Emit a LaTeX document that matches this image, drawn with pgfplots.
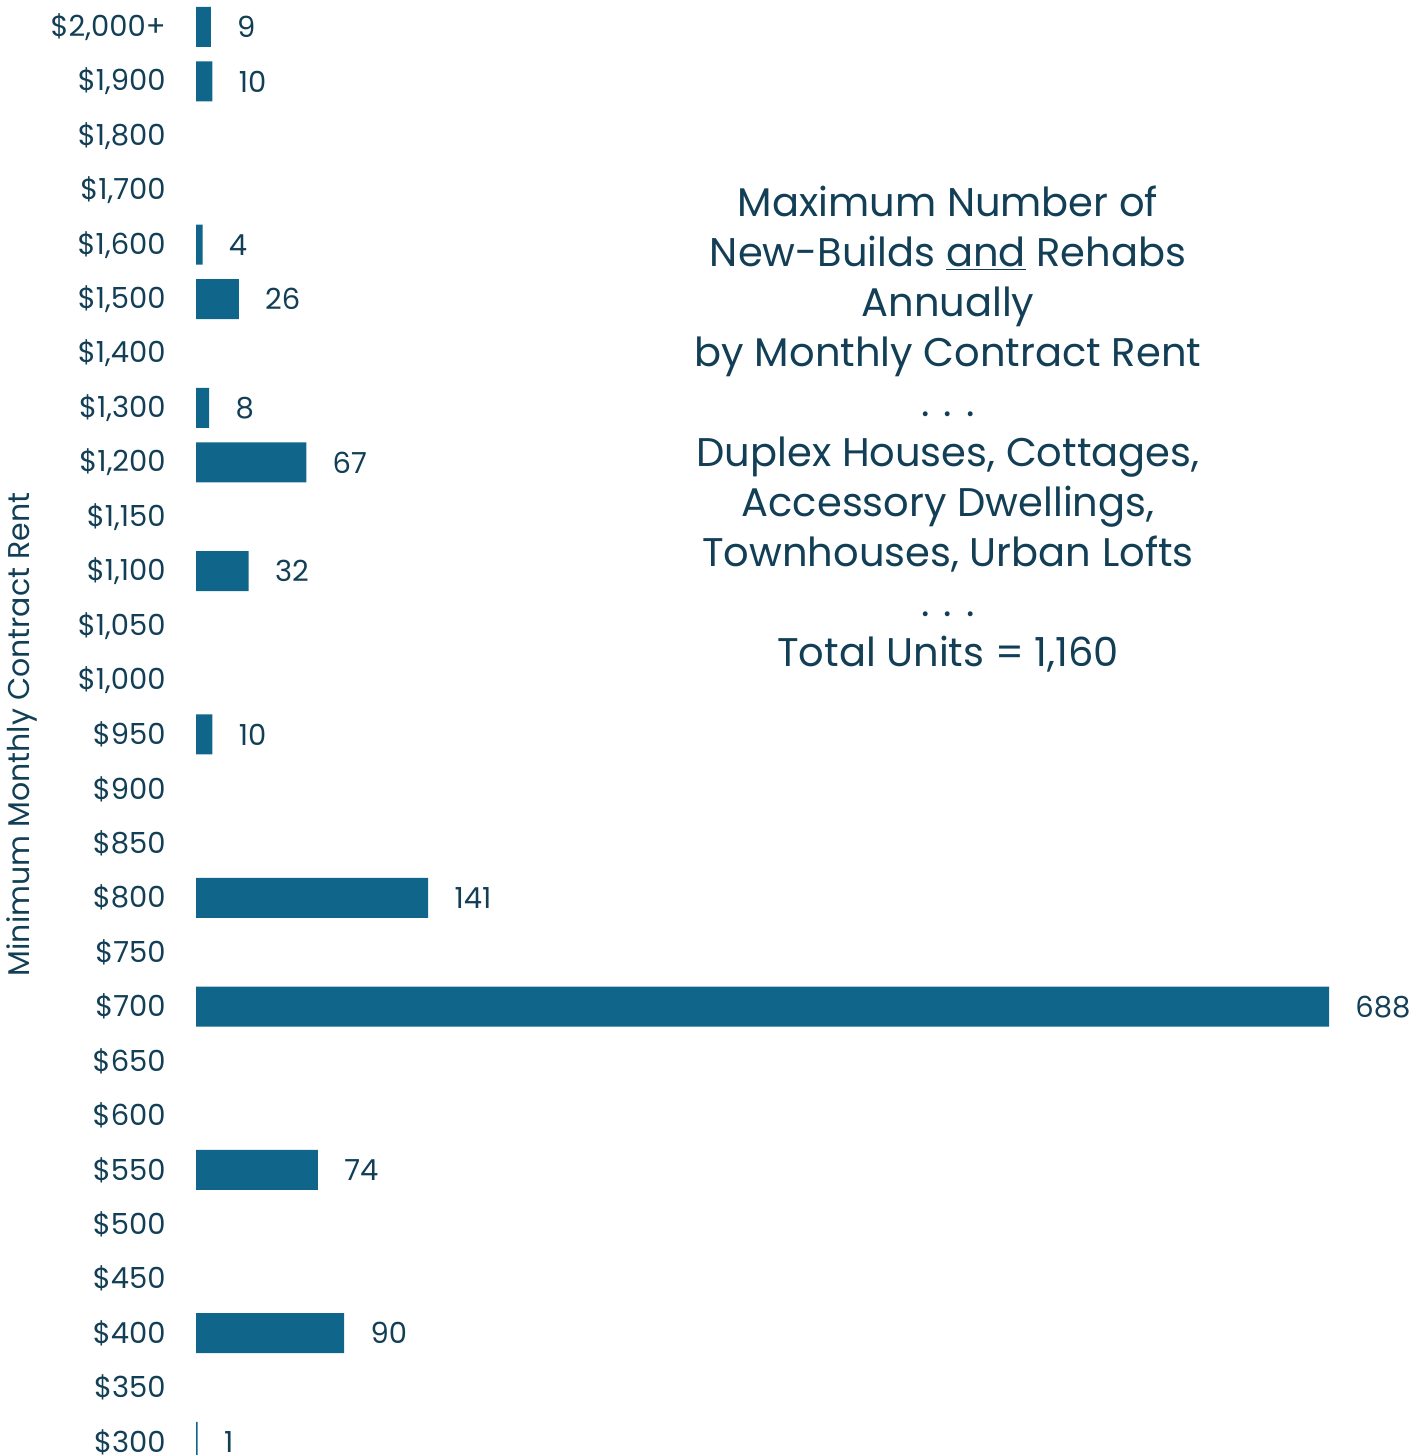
\documentclass[border=0pt]{standalone}
\usepackage{fontspec}
\setmainfont{Poppins}
\usepackage{pgfplots}
\pgfplotsset{compat=1.18}
\definecolor{barc}{HTML}{10658A}
\definecolor{txt}{HTML}{123F56}
\begin{document}
\begin{tikzpicture}[x=1pt,y=1pt]
\begin{axis}[
  at={(98pt,-7.1pt)}, anchor=south west,
  scale only axis, width=576.4pt, height=734.7pt,
  xbar, bar width=20pt,
  xmin=0, xmax=700, ymin=-0.5, ymax=26.5,
  hide x axis,
  y axis line style={draw=none},
  ytick={0,...,26},
  ytick style={draw=none},
  major tick length=0pt,
  yticklabels={\$300,\$350,\$400,\$450,\$500,\$550,\$600,\$650,\$700,\$750,\$800,\$850,\$900,\$950,{\$1,000},{\$1,050},{\$1,100},{\$1,150},{\$1,200},{\$1,300},{\$1,400},{\$1,500},{\$1,600},{\$1,700},{\$1,800},{\$1,900},{\$2,000+}},
  yticklabel style={font=\fontsize{14.5}{17}\selectfont, text=txt, anchor=east, inner sep=0pt, xshift=-15pt},
  ylabel={Minimum Monthly Contract Rent},
  ylabel style={font=\fontsize{15}{18}\selectfont, text=txt, at={(axis description cs:-0.151,0.5)}, anchor=center},
  nodes near coords,
  point meta=x,
  nodes near coords style={font=\fontsize{14.5}{17}\selectfont, text=txt, anchor=west, inner sep=0pt, xshift=13pt, /pgf/number format/assume math mode=true},
  clip=false,
]
\addplot[fill=barc, draw=none] coordinates {
  (1,0) (90,2) (74,5) (688,8) (141,10) (10,13) (32,16) (67,18)
  (8,19) (26,21) (4,22) (10,25) (9,26)
};
\end{axis}
\node[align=center, text=txt, font=\fontsize{20}{25}\selectfont] at (474,513) {Maximum Number of\\New-Builds \underline{and} Rehabs\\Annually\\by Monthly Contract Rent\\. . .\\Duplex Houses, Cottages,\\Accessory Dwellings,\\Townhouses, Urban Lofts\\. . .\\Total Units = 1,160};
\pgfresetboundingbox
\path[use as bounding box] (0,0) rectangle (713.5,727.5);
\end{tikzpicture}
\end{document}
